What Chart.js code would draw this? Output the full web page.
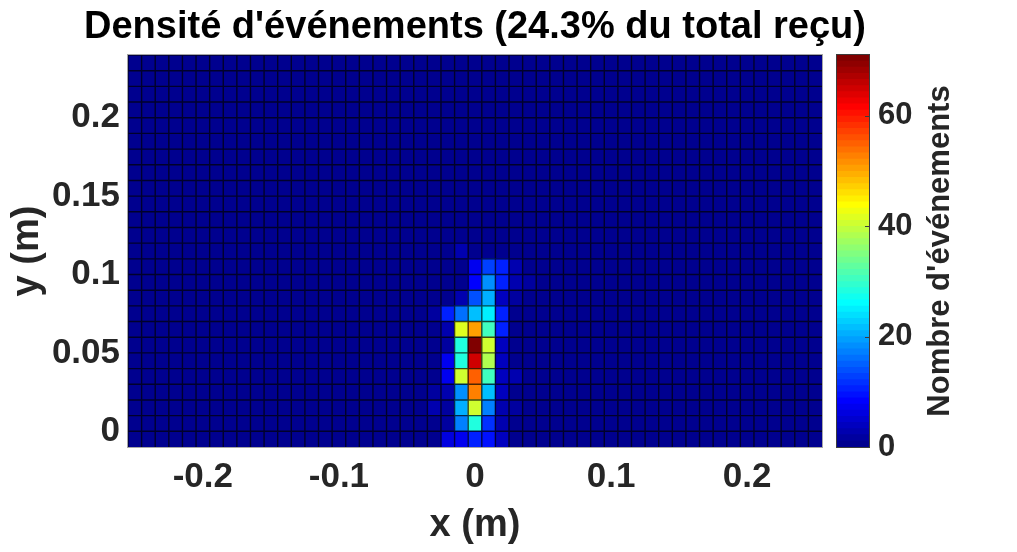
<!DOCTYPE html>
<html lang="fr">
<head>
<meta charset="UTF-8">
<title>Densité d'événements</title>
<script src="https://cdn.jsdelivr.net/npm/chart.js"></script>
<style>
  html, body { margin: 0; padding: 0; background: #fff; }
  #wrap { position: relative; width: 1017px; height: 552px; }
  #wrap canvas { position: absolute; left: 0; top: 0; }
</style>
</head>
<body>
<div id="wrap">
  <canvas id="density" width="1017" height="552"></canvas>
  <canvas id="colorbar" width="1017" height="552"></canvas>
</div>
<script>
// bin centres (m), bins are 0.01 m wide
const binW = 0.01;
const xCenters = [-0.25, -0.24, -0.23, -0.22, -0.21, -0.2, -0.19, -0.18, -0.17, -0.16,
  -0.15, -0.14, -0.13, -0.12, -0.11, -0.1, -0.09, -0.08, -0.07, -0.06, -0.05, -0.04,
  -0.03, -0.02, -0.01, 0, 0.01, 0.02, 0.03, 0.04, 0.05, 0.06, 0.07, 0.08, 0.09, 0.1,
  0.11, 0.12, 0.13, 0.14, 0.15, 0.16, 0.17, 0.18, 0.19, 0.2, 0.21, 0.22, 0.23, 0.24, 0.25];
const yCenters = [-0.005, 0.005, 0.015, 0.025, 0.035, 0.045, 0.055, 0.065, 0.075, 0.085,
  0.095, 0.105, 0.115, 0.125, 0.135, 0.145, 0.155, 0.165, 0.175, 0.185, 0.195, 0.205,
  0.215, 0.225, 0.235];

// counts around the spot (rows bottom -> top); every other bin is empty
const spotX = [-0.04, -0.03, -0.02, -0.01, 0, 0.01, 0.02, 0.03, 0.04];
const spotY = [-0.005, 0.005, 0.015, 0.025, 0.035, 0.045, 0.055, 0.065, 0.075, 0.085,
  0.095, 0.105, 0.115, 0.125];
const spotCounts = [
  [0, 1, 6, 7, 11, 9, 4, 1, 0],
  [0, 0, 2, 17, 28, 12, 3, 1, 0],
  [0, 3, 2, 21, 41, 17, 3, 2, 0],
  [0, 2, 3, 18, 53, 22, 4, 1, 0],
  [0, 0, 7, 40, 55, 31, 4, 3, 0],
  [0, 0, 7, 28, 65, 38, 4, 0, 0],
  [0, 0, 2, 28, 71, 40, 4, 0, 0],
  [0, 0, 3, 42, 50, 31, 11, 0, 0],
  [0, 2, 11, 16, 22, 25, 10, 0, 0],
  [0, 0, 0, 3, 14, 21, 4, 2, 0],
  [0, 0, 1, 1, 8, 18, 11, 3, 2],
  [0, 0, 0, 1, 7, 13, 11, 3, 0],
  [0, 0, 0, 3, 0, 0, 0, 0, 0],
  [0, 0, 0, 0, 0, 0, 0, 0, 0]
];

const xTicks = [-0.2, -0.1, 0, 0.1, 0.2];
const yTicks = [0, 0.05, 0.1, 0.15, 0.2];
const cbTicks = [0, 20, 40, 60];
const cMax = 71;

const FONT = "'Liberation Sans', Arial, Helvetica, sans-serif";
const TXT = '#262626';
const TITLE = "Densité d'événements (24.3% du total reçu)";

// MATLAB jet(64)
function jet64(i) {
  const u = k => (k < 16 ? (k + 1) / 16 : k < 31 ? 1 : (47 - k) / 16);
  const r = i >= 24 ? u(i - 24) : 0;
  const g = (i >= 8 && i <= 54) ? u(i - 8) : 0;
  const b = i <= 38 ? u(i + 8) : 0;
  return 'rgb(' + Math.round(r * 255) + ',' + Math.round(g * 255) + ',' + Math.round(b * 255) + ')';
}
const jetColors = [];
for (let i = 0; i < 64; i++) jetColors.push(jet64(i));

function colorFor(v) {
  const idx = Math.max(0, Math.min(63, Math.floor(v / cMax * 64)));
  return jetColors[idx];
}

const key = v => Math.round(v * 1000);
function countAt(x, y) {
  const i = spotX.findIndex(s => key(s) === key(x));
  const j = spotY.findIndex(s => key(s) === key(y));
  if (i < 0 || j < 0) return 0;
  return spotCounts[j][i];
}

// one floating-bar dataset per row of bins
const rowSets = yCenters.map(yc => ({
  data: xCenters.map(x => ({ x: x, y: [yc - binW / 2, yc + binW / 2] })),
  backgroundColor: xCenters.map(x => colorFor(countAt(x, yc))),
  borderWidth: 0,
  inflateAmount: 0.5,
  grouped: false,
  barPercentage: 1,
  categoryPercentage: 1
}));

// bin edge lines, plot frame and title
const decor = {
  id: 'decor',
  afterDatasetsDraw(chart) {
    const a = chart.chartArea, ctx = chart.ctx;
    const xs = chart.scales.x, ys = chart.scales.y;
    ctx.save();
    ctx.strokeStyle = 'rgba(0,0,0,0.7)';
    ctx.lineWidth = 1.4;
    ctx.beginPath();
    xCenters.forEach(x => {
      const px = xs.getPixelForValue(x - binW / 2);
      ctx.moveTo(px, a.top);
      ctx.lineTo(px, a.bottom);
    });
    yCenters.forEach(y => {
      const py = ys.getPixelForValue(y + binW / 2);
      ctx.moveTo(a.left, py);
      ctx.lineTo(a.right, py);
    });
    ctx.stroke();
    ctx.restore();
  },
  afterDraw(chart) {
    const a = chart.chartArea, ctx = chart.ctx;
    ctx.save();
    ctx.strokeStyle = '#a6a6a6';
    ctx.lineWidth = 1;
    ctx.strokeRect(a.left - 0.5, a.top - 0.5, a.right - a.left + 1, a.bottom - a.top + 1);
    ctx.fillStyle = '#000';
    ctx.font = 'bold 38px ' + FONT;
    ctx.textAlign = 'center';
    ctx.textBaseline = 'middle';
    ctx.fillText(TITLE, (a.left + a.right) / 2, 28);
    ctx.restore();
  }
};

new Chart(document.getElementById('density'), {
  type: 'bar',
  data: { datasets: rowSets },
  plugins: [decor],
  options: {
    responsive: false,
    animation: false,
    layout: { padding: { left: 0, right: 195, top: 55, bottom: 0 } },
    plugins: {
      legend: { display: false },
      tooltip: { enabled: false },
      title: { display: false }
    },
    scales: {
      x: {
        type: 'linear',
        offset: false,
        min: -0.255,
        max: 0.255,
        afterBuildTicks: s => { s.ticks = xTicks.map(v => ({ value: v })); },
        afterFit: s => { s.height = 105; },
        grid: { display: false, drawTicks: false },
        border: { display: false },
        ticks: {
          color: TXT, padding: 9, maxRotation: 0, autoSkip: false,
          font: { family: FONT, size: 35, weight: 'bold' },
          callback: v => String(v)
        },
        title: {
          display: true, text: 'x (m)', color: TXT,
          font: { family: FONT, size: 38, weight: 'bold', lineHeight: 1.2 },
          padding: { top: 0, bottom: 4 }
        }
      },
      y: {
        type: 'linear',
        min: -0.01,
        max: 0.24,
        afterBuildTicks: s => { s.ticks = yTicks.map(v => ({ value: v })); },
        afterFit: s => { s.width = 128; },
        grid: { display: false, drawTicks: false },
        border: { display: false },
        ticks: {
          color: TXT, padding: 8, autoSkip: false,
          font: { family: FONT, size: 35, weight: 'bold' },
          callback: v => String(v)
        },
        title: {
          display: true, text: 'y (m)', color: TXT,
          font: { family: FONT, size: 38, weight: 'bold', lineHeight: 1.2 },
          padding: { top: 5, bottom: 0 }
        }
      }
    }
  }
});

// colour bar: 64 stacked colour steps
const cbSets = jetColors.map((c, i) => ({
  data: [[i * cMax / 64, (i + 1) * cMax / 64]],
  backgroundColor: c,
  borderWidth: 0,
  inflateAmount: 0.4,
  grouped: false,
  barPercentage: 1,
  categoryPercentage: 1
}));

const cbDecor = {
  id: 'cbDecor',
  afterDraw(chart) {
    const a = chart.chartArea, ctx = chart.ctx, ys = chart.scales.y;
    ctx.save();
    ctx.strokeStyle = '#3c3c3c';
    ctx.lineWidth = 1;
    ctx.beginPath();
    cbTicks.forEach(t => {
      const py = Math.round(ys.getPixelForValue(t)) + 0.5;
      ctx.moveTo(a.right - 4, py);
      ctx.lineTo(a.right, py);
    });
    ctx.stroke();
    ctx.strokeRect(a.left - 0.5, a.top - 0.5, a.right - a.left + 1, a.bottom - a.top + 1);
    ctx.translate(940, (a.top + a.bottom) / 2);
    ctx.rotate(-Math.PI / 2);
    ctx.fillStyle = TXT;
    ctx.font = 'bold 31px ' + FONT;
    ctx.textAlign = 'center';
    ctx.textBaseline = 'middle';
    ctx.fillText("Nombre d'événements", 0, 0);
    ctx.restore();
  }
};

new Chart(document.getElementById('colorbar'), {
  type: 'bar',
  data: { labels: [''], datasets: cbSets },
  plugins: [cbDecor],
  options: {
    responsive: false,
    animation: false,
    layout: { padding: { left: 837, right: 0, top: 55, bottom: 105 } },
    plugins: { legend: { display: false }, tooltip: { enabled: false } },
    scales: {
      x: { display: false },
      y: {
        position: 'right',
        min: 0,
        max: cMax,
        afterBuildTicks: s => { s.ticks = cbTicks.map(v => ({ value: v })); },
        afterFit: s => { s.width = 148; },
        grid: { display: false, drawTicks: false },
        border: { display: false },
        ticks: {
          color: TXT, padding: 9, autoSkip: false,
          font: { family: FONT, size: 31, weight: 'bold' }
        }
      }
    }
  }
});
</script>
</body>
</html>
